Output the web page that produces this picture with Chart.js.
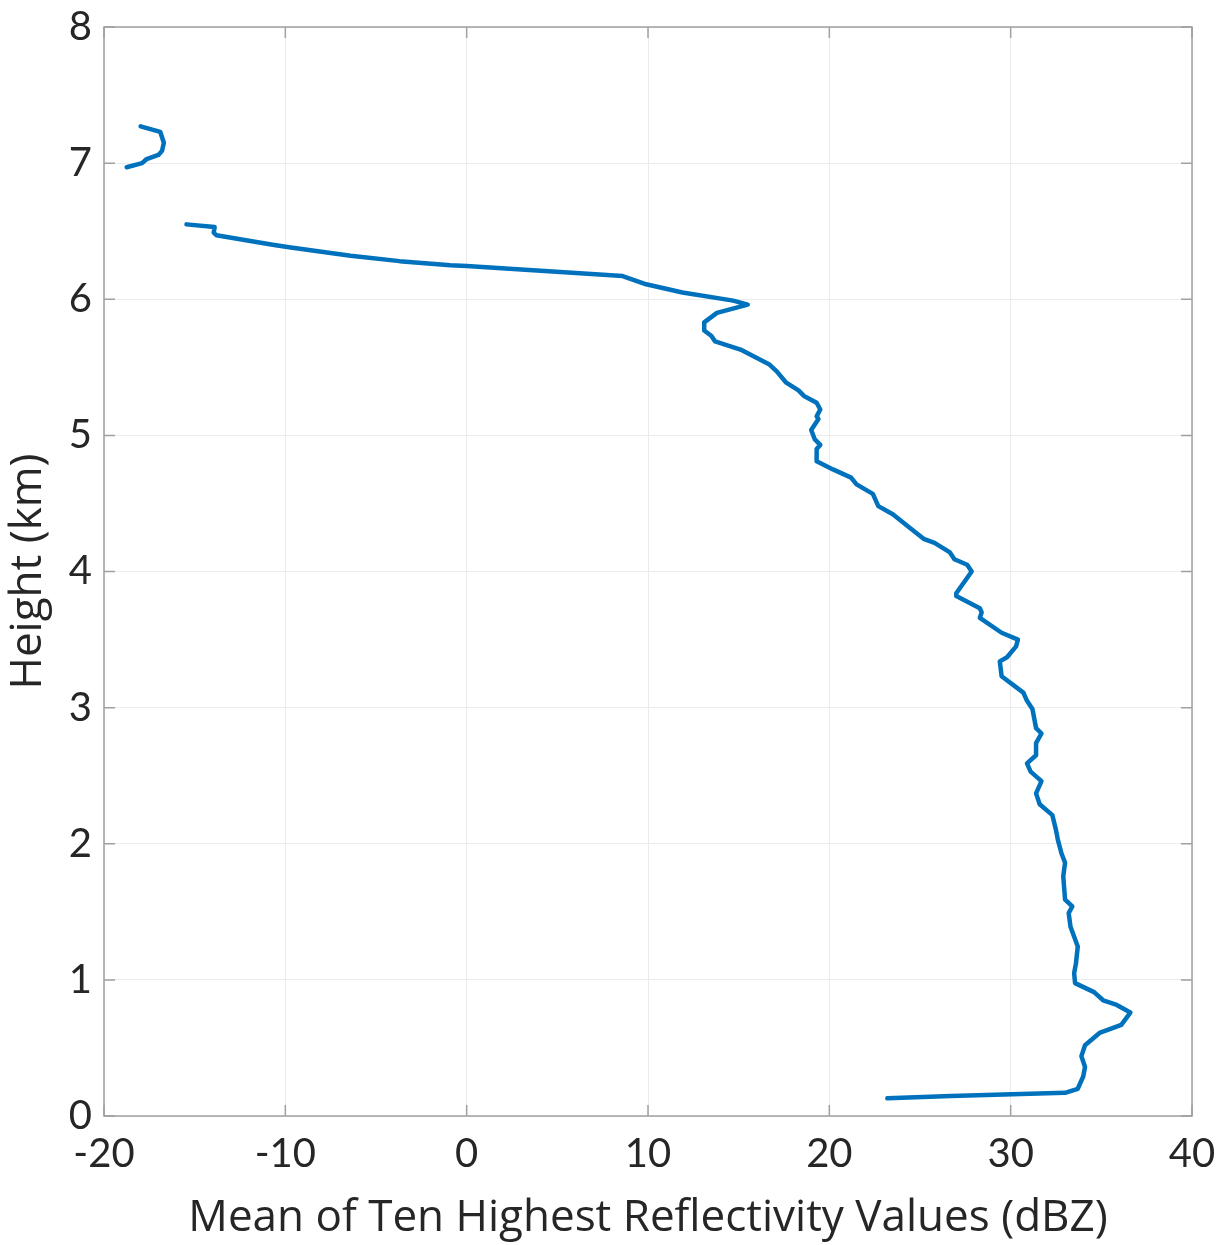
<!DOCTYPE html>
<html>
<head>
<meta charset="utf-8">
<script src="https://cdn.jsdelivr.net/npm/chart.js@4"></script>
<style>
  html, body { margin: 0; padding: 0; background: #fff; }
  #wrap { width: 1228px; height: 1245px; }
</style>
</head>
<body>
<div id="wrap"><canvas id="profileChart" width="1228" height="1245"></canvas></div>
<script>
// Data
const xTicks = [-20, -10, 0, 10, 20, 30, 40];
const yTicks = [0, 1, 2, 3, 4, 5, 6, 7, 8];

// small detached piece near 7 km
const upperDbz = [-17.98, -16.9, -16.7, -16.8, -17.0, -17.65, -17.9, -18.75];
const upperHeight = [7.27, 7.23, 7.15, 7.09, 7.06, 7.03, 7.00, 6.97];

// main profile, top to bottom
const mainDbz = [
  -15.45, -13.9, -13.95, -13.8, -10.7, -9.7, -6.4, -3.7, -0.9, 0,
  8.6, 9.9, 11.9, 14.7, 15.5, 13.8, 13.1, 13.1, 13.5, 13.7,
  15.1, 16.7, 17.1, 17.6, 18.3, 18.6, 19.3, 19.5, 19.3, 19.4,
  19.0, 19.2, 19.5, 19.3, 19.3, 20.2, 21.2, 21.5, 22.4, 22.7,
  23.5, 24.45, 25.2, 25.8, 26.65, 26.9, 27.6, 27.85, 27.0, 27.0,
  28.3, 28.4, 28.3, 29.5, 30.4, 30.3, 29.8, 29.4, 29.5, 30.7,
  30.9, 31.2, 31.4, 31.7, 31.4, 31.4, 30.9, 31.1, 31.7, 31.4,
  31.6, 32.3, 32.5, 32.6, 32.8, 33.0, 32.9, 33.0, 33.4, 33.2,
  33.3, 33.7, 33.6, 33.5, 33.55, 34.6, 35.1, 35.85, 36.6, 36.1,
  34.9, 34.1, 33.9, 34.1, 34.0, 33.7, 33.0, 26.7, 23.2
];
const mainHeight = [
  6.55, 6.53, 6.49, 6.47, 6.40, 6.38, 6.32, 6.28, 6.25, 6.245,
  6.17, 6.11, 6.05, 5.99, 5.96, 5.90, 5.83, 5.77, 5.73, 5.69,
  5.63, 5.52, 5.47, 5.39, 5.33, 5.29, 5.24, 5.19, 5.14, 5.12,
  5.04, 4.97, 4.93, 4.90, 4.81, 4.75, 4.69, 4.64, 4.57, 4.48,
  4.42, 4.32, 4.24, 4.21, 4.14, 4.09, 4.05, 4.00, 3.84, 3.82,
  3.73, 3.70, 3.66, 3.55, 3.50, 3.45, 3.37, 3.34, 3.23, 3.11,
  3.05, 2.99, 2.85, 2.81, 2.74, 2.65, 2.59, 2.53, 2.46, 2.37,
  2.29, 2.21, 2.10, 2.03, 1.93, 1.86, 1.76, 1.59, 1.54, 1.49,
  1.39, 1.245, 1.12, 1.05, 0.976, 0.91, 0.85, 0.816, 0.76, 0.67,
  0.61, 0.52, 0.44, 0.36, 0.29, 0.20, 0.17, 0.147, 0.13
];

const lineColor = '#0072BD';
const textColor = '#262626';
const tickFont = 'Lato, "Open Sans", sans-serif';
const titleFont = '"Open Sans", Lato, sans-serif';

function toPoints(xs, ys) {
  return xs.map((x, i) => ({ x: x, y: ys[i] }));
}

// MATLAB-like box with inward ticks
const boxPlugin = {
  id: 'matlabBox',
  afterDatasetsDraw(chart) {
    const { ctx, chartArea: a, scales } = chart;
    const len = 11;
    ctx.save();
    ctx.strokeStyle = '#a0a0a0';
    ctx.lineWidth = 1.5;
    ctx.beginPath();
    scales.x.ticks.forEach(t => {
      const px = scales.x.getPixelForValue(t.value);
      ctx.moveTo(px, a.bottom); ctx.lineTo(px, a.bottom - len);
      ctx.moveTo(px, a.top); ctx.lineTo(px, a.top + len);
    });
    scales.y.ticks.forEach(t => {
      const py = scales.y.getPixelForValue(t.value);
      ctx.moveTo(a.left, py); ctx.lineTo(a.left + len, py);
      ctx.moveTo(a.right, py); ctx.lineTo(a.right - len, py);
    });
    ctx.stroke();
    ctx.strokeRect(a.left, a.top, a.right - a.left, a.bottom - a.top);
    ctx.restore();
  }
};

const ctx = document.getElementById('profileChart').getContext('2d');
const lineStyle = {
  showLine: true,
  borderColor: lineColor,
  backgroundColor: lineColor,
  borderWidth: 4.5,
  pointRadius: 0,
  tension: 0,
  borderJoinStyle: 'round',
  borderCapStyle: 'round'
};

new Chart(ctx, {
  type: 'scatter',
  data: {
    datasets: [
      Object.assign({ label: 'upper', data: toPoints(upperDbz, upperHeight) }, lineStyle),
      Object.assign({ label: 'main', data: toPoints(mainDbz, mainHeight) }, lineStyle)
    ]
  },
  options: {
    responsive: false,
    animation: false,
    layout: { padding: { top: 27, right: 36, left: 0, bottom: 0 } },
    plugins: { legend: { display: false }, tooltip: { enabled: false } },
    scales: {
      x: {
        type: 'linear',
        min: -20, max: 40,
        afterBuildTicks: s => { s.ticks = xTicks.map(v => ({ value: v })); },
        afterFit: s => { s.height = 129; s.paddingLeft = 0; s.paddingRight = 0; },
        grid: { color: '#ebebeb', lineWidth: 1, drawTicks: false },
        border: { display: false },
        ticks: { color: textColor, font: { family: tickFont, size: 40 }, padding: 14, maxRotation: 0 },
        title: {
          display: true,
          text: 'Mean of Ten Highest Reflectivity Values (dBZ)',
          color: textColor,
          font: { family: titleFont, size: 44 },
          padding: { top: 0, bottom: 0 }
        }
      },
      y: {
        type: 'linear',
        min: 0, max: 8,
        afterBuildTicks: s => { s.ticks = yTicks.map(v => ({ value: v })); },
        afterFit: s => { s.width = 104; s.paddingTop = 0; s.paddingBottom = 0; },
        grid: { color: '#ebebeb', lineWidth: 1, drawTicks: false },
        border: { display: false },
        ticks: { color: textColor, font: { family: tickFont, size: 40 }, padding: 12 },
        title: {
          display: true,
          text: 'Height (km)',
          color: textColor,
          font: { family: titleFont, size: 44 },
          padding: { top: 2, bottom: 0 }
        }
      }
    }
  },
  plugins: [boxPlugin]
});
</script>
</body>
</html>
